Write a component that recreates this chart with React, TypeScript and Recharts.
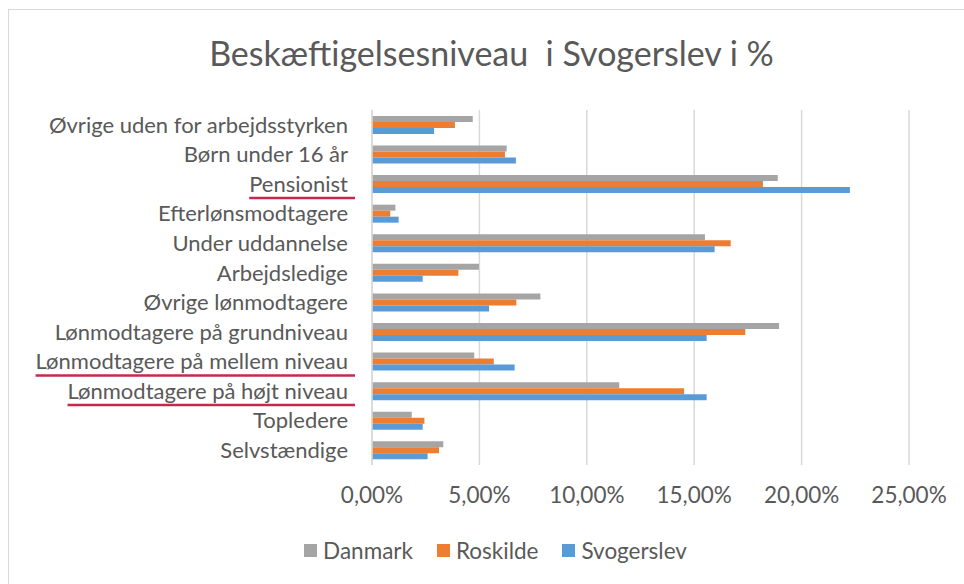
import { useLayoutEffect, useRef, useState } from "react";
import { BarChart, Bar, XAxis, YAxis, CartesianGrid, Legend } from "recharts";

const categories = [
  "Øvrige uden for arbejdsstyrken",
  "Børn under 16 år",
  "Pensionist",
  "Efterlønsmodtagere",
  "Under uddannelse",
  "Arbejdsledige",
  "Øvrige lønmodtagere",
  "Lønmodtagere på grundniveau",
  "Lønmodtagere på mellem niveau",
  "Lønmodtagere på højt niveau",
  "Topledere",
  "Selvstændige",
];

// percent values
const danmark = [4.69, 6.27, 18.89, 1.09, 15.5, 4.98, 7.84, 18.95, 4.76, 11.51, 1.85, 3.32];
const roskilde = [3.86, 6.19, 18.2, 0.85, 16.7, 4.02, 6.72, 17.38, 5.67, 14.53, 2.44, 3.12];
const svogerslev = [2.89, 6.7, 22.25, 1.24, 15.95, 2.36, 5.45, 15.58, 6.64, 15.58, 2.36, 2.59];

const xTicks = [0, 5, 10, 15, 20, 25];

// labels marked with a red underline in the original
const underlined = ["Pensionist", "Lønmodtagere på mellem niveau", "Lønmodtagere på højt niveau"];

const data = categories.map((name, i) => ({
  name,
  Danmark: danmark[i],
  Roskilde: roskilde[i],
  Svogerslev: svogerslev[i],
}));

const FONT = "Lato, 'Open Sans', sans-serif";
const TEXT = "#595959";
const GRID = "#d9d9d9";

const CategoryTick = ({ x, y, payload }: any) => {
  const ref = useRef<SVGTextElement>(null);
  const [w, setW] = useState(0);
  useLayoutEffect(() => {
    if (ref.current) setW(ref.current.getComputedTextLength());
  }, [payload.value]);
  const marked = underlined.includes(payload.value);
  return (
    <g>
      <text ref={ref} x={x} y={y} dy="0.355em" textAnchor="end" fill={TEXT} fontSize={22} fontFamily={FONT}>
        {payload.value}
      </text>
      {marked && w > 0 && (
        <line x1={x - w} x2={x + 7} y1={y + 14} y2={y + 14} stroke="#c52a4d" strokeWidth={2.5} />
      )}
    </g>
  );
};

const LegendContent = ({ payload }: any) => (
  <div style={{ display: "flex", justifyContent: "center", alignItems: "center", height: 30 }}>
    {(payload || []).map((p: any) => (
      <div key={p.value} style={{ display: "flex", alignItems: "center", margin: "0 12px" }}>
        <span style={{ width: 13, height: 13, background: p.color, marginRight: 6, display: "inline-block" }} />
        <span style={{ fontFamily: FONT, fontSize: 22.5, color: TEXT }}>{p.value}</span>
      </div>
    ))}
  </div>
);

const fmt = (v: number) => `${v.toFixed(2).replace(".", ",")}%`;

export default function App() {
  return (
    <div style={{ position: "absolute", left: 0, top: 0, width: 964, height: 584, overflow: "hidden", background: "#fff" }}>
      <div
        style={{
          position: "absolute",
          left: 8,
          top: 9,
          width: 980,
          height: 600,
          border: `1px solid ${GRID}`,
        }}
      />
      <div
        style={{
          position: "absolute",
          left: 0,
          width: 983,
          top: 36,
          textAlign: "center",
          fontFamily: FONT,
          fontSize: 34,
          lineHeight: "34px",
          color: TEXT,
          whiteSpace: "pre",
        }}
      >
        Beskæftigelsesniveau  i Svogerslev i %
      </div>
      <div style={{ position: "absolute", left: 0, top: 0 }}>
        <BarChart
          width={964}
          height={584}
          data={data}
          layout="vertical"
          margin={{ top: 110, right: 55, bottom: 19, left: 0 }}
          barCategoryGap="20%"
          barGap={0}
        >
          <CartesianGrid horizontal={false} stroke={GRID} strokeWidth={1.5} />
          <XAxis
            type="number"
            domain={[0, 25]}
            ticks={xTicks}
            tickFormatter={fmt}
            axisLine={false}
            tickLine={false}
            tickSize={0}
            tickMargin={22}
            height={70}
            tick={{ fill: TEXT, fontSize: 22.5, fontFamily: FONT }}
            interval={0}
          />
          <YAxis
            type="category"
            dataKey="name"
            width={372}
            axisLine={{ stroke: GRID, strokeWidth: 1.5 }}
            tickLine={false}
            tickSize={0}
            tickMargin={24}
            interval={0}
            tick={<CategoryTick />}
          />
          <Legend
            verticalAlign="bottom"
            height={30}
            content={<LegendContent />}
            wrapperStyle={{ left: 27, width: 937 }}
          />
          <Bar dataKey="Danmark" fill="#a5a5a5" isAnimationActive={false} />
          <Bar dataKey="Roskilde" fill="#ed7d31" isAnimationActive={false} />
          <Bar dataKey="Svogerslev" fill="#5b9bd5" isAnimationActive={false} />
        </BarChart>
      </div>
    </div>
  );
}
